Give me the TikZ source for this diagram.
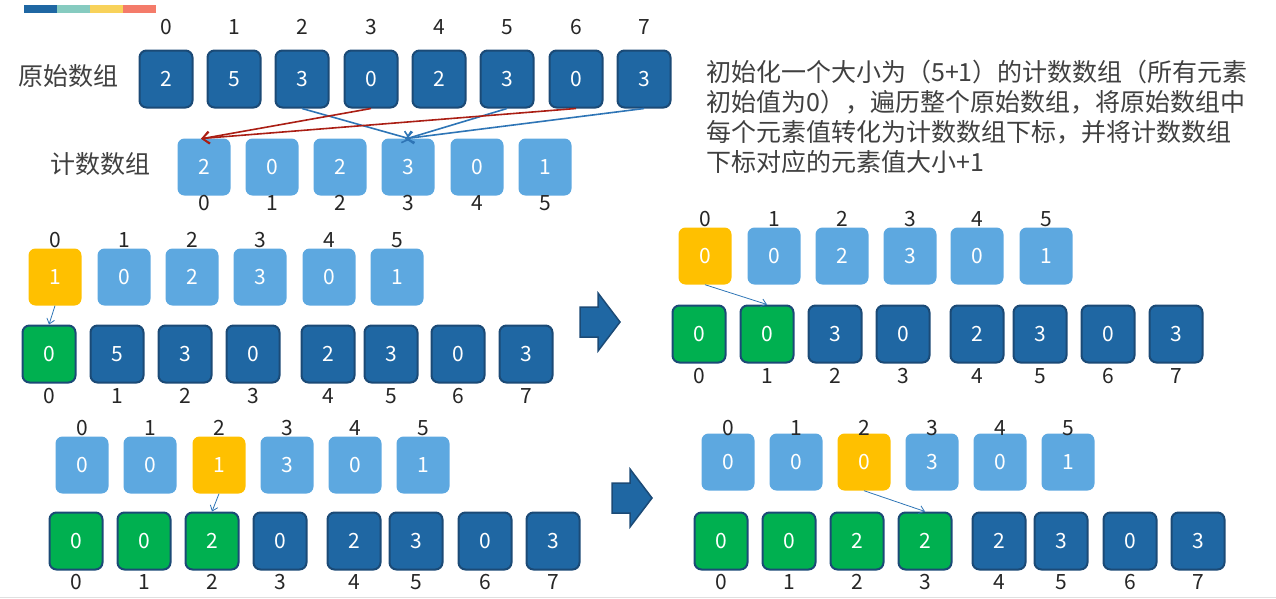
\documentclass[tikz,border=0pt]{standalone}
\usepackage{fontspec}
\usetikzlibrary{arrows.meta}
\setmainfont{Noto Sans CJK SC}
\definecolor{darkbox}{RGB}{31,103,163}
\definecolor{darkedge}{RGB}{27,74,118}
\definecolor{lightbox}{RGB}{93,168,224}
\definecolor{curbox}{RGB}{255,192,0}
\definecolor{donebox}{RGB}{0,176,80}
\definecolor{linkblue}{RGB}{46,117,182}
\definecolor{linkred}{RGB}{170,30,20}
\definecolor{labelgray}{RGB}{38,38,38}
\definecolor{textgray}{RGB}{64,64,64}
\definecolor{stripeteal}{RGB}{134,203,192}
\definecolor{stripeyellow}{RGB}{248,210,90}
\definecolor{stripered}{RGB}{244,123,106}
\begin{document}
\begin{tikzpicture}[x=1pt,y=-1pt,
    cell/.style={rounded corners=7pt, minimum width=53pt, minimum height=57pt, inner sep=0pt, text=white, font=\fontsize{21}{21}\selectfont},
    origcell/.style={cell, draw=darkedge, line width=2pt},
    countcell/.style={cell},
    idx/.style={inner sep=0pt, text=labelgray, font=\fontsize{21}{21}\selectfont},
    title/.style={inner sep=0pt, text=textgray, font=\fontsize{25}{25}\selectfont},
    link/.style={-{Straight Barb[length=7pt, width=12pt]}, line width=1.6pt, shorten >=-3pt},
    steplink/.style={-{Straight Barb[length=5pt, width=8pt]}, draw=linkblue, line width=0.8pt},
    bigarrow/.style={fill=darkbox, draw=darkedge, line width=1.5pt, line join=miter}]
  \useasboundingbox (0,0) rectangle (1276,598);

  % colour stripe
  \fill[darkbox] (24,5) rectangle (57,13);
  \fill[stripeteal] (57,5) rectangle (90,13);
  \fill[stripeyellow] (90,5) rectangle (123,13);
  \fill[stripered] (123,5) rectangle (156,13);

  % original array and count array
  \node[title] (origname) at (68,76) {原始数组};
  \node[title] (countname) at (100,164) {计数数组};
  \foreach \x/\v [count=\i from 0] in {166/2,234/5,302/3,371/0,439/2,507/3,576/0,644/3} {
    \node[origcell, fill=darkbox] (a\i) at (\x,79) {\v};
    \node[idx] at (\x,27) {\i};
  }
  \foreach \x/\v [count=\i from 0] in {204/2,272/0,340/2,408/3,477/0,545/1} {
    \node[countcell, fill=lightbox] (c\i) at (\x,167) {\v};
    \node[idx] at (\x,203) {\i};
  }
  \draw[link, linkblue] (a2.south) -- (c3.north);
  \draw[link, linkred] (a3.south) -- (c0.north);
  \draw[link, linkblue] (a5.south) -- (c3.north);
  \draw[link, linkred] (a6.south) -- (c0.north);
  \draw[link, linkblue] (a7.south) -- (c3.north);

  \node[title, align=left, anchor=north west, font=\fontsize{25}{30}\selectfont] (note) at (706,60)
    {初始化一个大小为（5+1）的计数数组（所有元素\\初始值为0），遍历整个原始数组，将原始数组中\\每个元素值转化为计数数组下标，并将计数数组\\下标对应的元素值大小+1};

  % step 1
  \foreach \x/\v/\f [count=\i from 0] in {55/1/curbox,124/0/lightbox,192/2/lightbox,260/3/lightbox,329/0/lightbox,397/1/lightbox} {
    \node[countcell, fill=\f] (p\i) at (\x,277) {\v};
    \node[idx] at (\x,240) {\i};
  }
  \foreach \x/\v/\f [count=\i from 0] in {49/0/donebox,117/5/darkbox,185/3/darkbox,253/0/darkbox,328/2/darkbox,391/3/darkbox,458/0/darkbox,526/3/darkbox} {
    \node[origcell, fill=\f] (q\i) at (\x,354) {\v};
    \node[idx] at (\x,396) {\i};
  }
  \draw[steplink] (p0.south) -- (q0.north);
  \draw[bigarrow] (580,307) -- (598,307) -- (598,293) -- (620,322) -- (598,351) -- (598,337) -- (580,337) -- cycle;

  % step 2
  \foreach \x/\v/\f [count=\i from 0] in {705/0/curbox,774/0/lightbox,842/2/lightbox,910/3/lightbox,977/0/lightbox,1046/1/lightbox} {
    \node[countcell, fill=\f] (r\i) at (\x,256) {\v};
    \node[idx] at (\x,219) {\i};
  }
  \foreach \x/\v/\f [count=\i from 0] in {699/0/donebox,767/0/donebox,835/3/darkbox,903/0/darkbox,977/2/darkbox,1040/3/darkbox,1108/0/darkbox,1176/3/darkbox} {
    \node[origcell, fill=\f] (s\i) at (\x,334) {\v};
    \node[idx] at (\x,376) {\i};
  }
  \draw[steplink] (r0.south) -- (s1.north);

  % step 3
  \foreach \x/\v/\f [count=\i from 0] in {82/0/lightbox,150/0/lightbox,219/1/curbox,287/3/lightbox,355/0/lightbox,423/1/lightbox} {
    \node[countcell, fill=\f] (t\i) at (\x,465) {\v};
    \node[idx] at (\x,428) {\i};
  }
  \foreach \x/\v/\f [count=\i from 0] in {76/0/donebox,144/0/donebox,212/2/donebox,280/0/darkbox,354/2/darkbox,416/3/darkbox,485/0/darkbox,553/3/darkbox} {
    \node[origcell, fill=\f] (u\i) at (\x,541) {\v};
    \node[idx] at (\x,582) {\i};
  }
  \draw[steplink] (t2.south) -- (u2.north);
  \draw[bigarrow] (612,483) -- (630,483) -- (630,469) -- (652,498) -- (630,527) -- (630,513) -- (612,513) -- cycle;

  % step 4
  \foreach \x/\v/\f [count=\i from 0] in {728/0/lightbox,796/0/lightbox,864/0/curbox,932/3/lightbox,1000/0/lightbox,1068/1/lightbox} {
    \node[countcell, fill=\f] (v\i) at (\x,462) {\v};
    \node[idx] at (\x,428) {\i};
  }
  \foreach \x/\v/\f [count=\i from 0] in {721/0/donebox,789/0/donebox,857/2/donebox,925/2/donebox,999/2/darkbox,1061/3/darkbox,1130/0/darkbox,1198/3/darkbox} {
    \node[origcell, fill=\f] (w\i) at (\x,541) {\v};
    \node[idx] at (\x,582) {\i};
  }
  \draw[steplink] (v2.south) -- (w3.north);

  \draw[black!12, line width=1pt] (0,597) -- (1276,597);
\end{tikzpicture}
\end{document}
